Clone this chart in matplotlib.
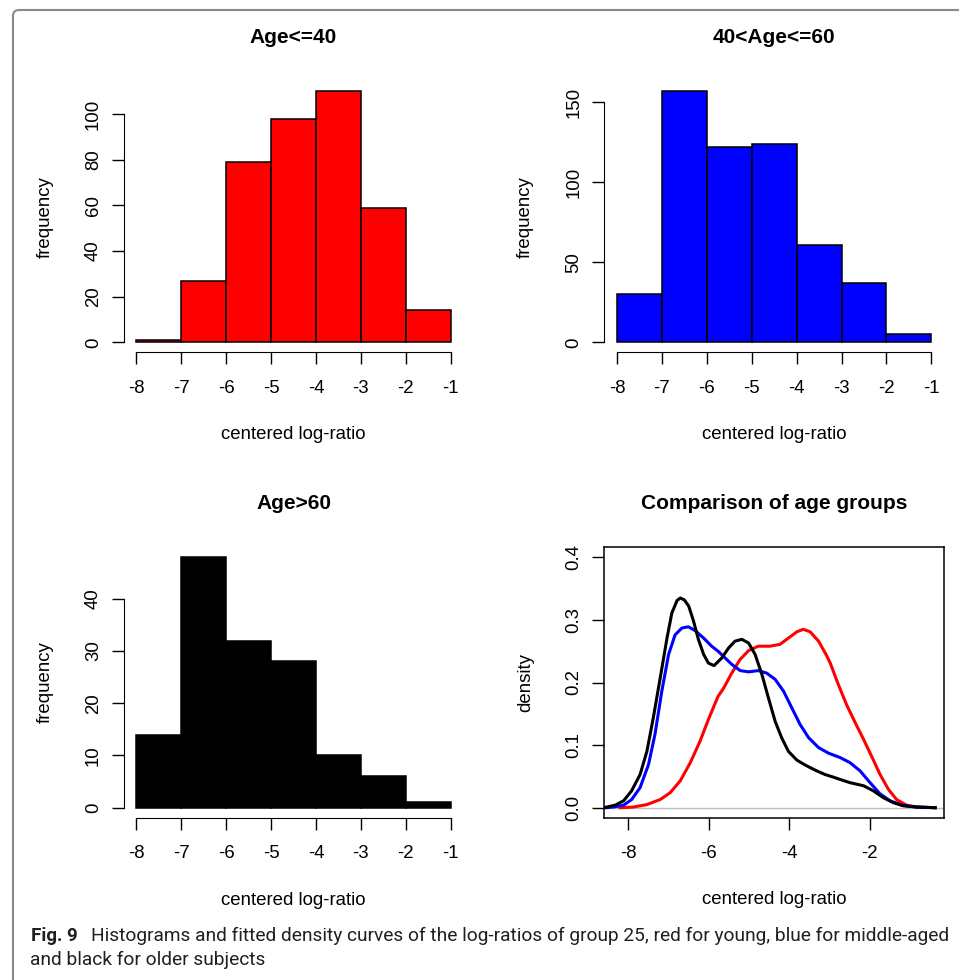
import matplotlib
matplotlib.use("Agg")
import matplotlib.pyplot as plt
from matplotlib.patches import FancyBboxPatch
from matplotlib.transforms import IdentityTransform

plt.rcParams['font.family'] = ['Liberation Sans', 'DejaVu Sans']
plt.rcParams['axes.unicode_minus'] = False

# histogram data (bins of width 1 from -8 to -1)
edges = [-8, -7, -6, -5, -4, -3, -2, -1]
young = [1, 27, 79, 98, 110, 59, 14]
middle = [30, 157, 122, 124, 61, 37, 5]
older = [14, 48, 32, 28, 10, 6, 1]

# density curves
young_x = [-8.21, -7.88, -7.54, -7.21, -6.96, -6.71, -6.46, -6.22, -6.01, -5.77,
           -5.64, -5.43, -5.22, -5.01, -4.77, -4.48, -4.23, -4.02, -3.81, -3.65,
           -3.48, -3.27, -3.07, -2.98, -2.78, -2.57, -2.36, -2.15, -1.95, -1.74,
           -1.53, -1.33, -1.08, -0.83, -0.37]
young_y = [0.0, 0.001, 0.005, 0.013, 0.024, 0.043, 0.072, 0.106, 0.141, 0.178,
           0.190, 0.215, 0.237, 0.251, 0.258, 0.258, 0.261, 0.271, 0.281, 0.285,
           0.281, 0.266, 0.243, 0.231, 0.197, 0.164, 0.136, 0.109, 0.082, 0.053,
           0.029, 0.013, 0.004, 0.001, 0.0]
middle_x = [-8.55, -8.37, -8.12, -7.92, -7.71, -7.50, -7.34, -7.17, -7.00, -6.84,
            -6.67, -6.51, -6.34, -6.13, -5.93, -5.77, -5.64, -5.43, -5.22, -5.01,
            -4.77, -4.56, -4.35, -4.14, -3.94, -3.73, -3.52, -3.27, -3.02, -2.73,
            -2.49, -2.24, -1.99, -1.74, -1.49, -1.20, -0.83, -0.37]
middle_y = [0.0, 0.001, 0.004, 0.013, 0.032, 0.069, 0.117, 0.186, 0.245, 0.276,
            0.287, 0.289, 0.283, 0.271, 0.258, 0.250, 0.242, 0.229, 0.219, 0.217,
            0.219, 0.215, 0.205, 0.186, 0.160, 0.133, 0.112, 0.096, 0.087, 0.080,
            0.072, 0.059, 0.040, 0.022, 0.011, 0.004, 0.001, 0.0]
older_x = [-8.62, -8.54, -8.33, -8.12, -7.92, -7.71, -7.54, -7.38, -7.21, -7.04,
           -6.92, -6.79, -6.71, -6.61, -6.50, -6.38, -6.26, -6.13, -6.01, -5.87,
           -5.68, -5.51, -5.35, -5.18, -5.01, -4.85, -4.68, -4.52, -4.35, -4.19,
           -4.02, -3.81, -3.60, -3.355, -3.11, -2.91, -2.73, -2.49, -2.15, -1.91,
           -1.66, -1.41, -1.16, -0.83, -0.37]
older_y = [0.0005, 0.001, 0.004, 0.011, 0.027, 0.053, 0.090, 0.144, 0.207, 0.271,
           0.311, 0.331, 0.335, 0.332, 0.322, 0.298, 0.269, 0.245, 0.231, 0.227,
           0.239, 0.255, 0.266, 0.269, 0.263, 0.245, 0.213, 0.176, 0.138, 0.112,
           0.090, 0.076, 0.068, 0.060, 0.053, 0.049, 0.045, 0.040, 0.035, 0.027,
           0.016, 0.008, 0.003, 0.001, 0.0]

W, H = 959, 980
fig = plt.figure(figsize=(W / 100, H / 100), dpi=100)


def axes_at(left, top, right, bottom):
    return fig.add_axes([left / W, 1 - bottom / H, (right - left) / W, (bottom - top) / H])


def style(ax, title):
    ax.set_title(title, fontsize=15, fontweight='bold', pad=27.3)
    ax.tick_params(length=8.6, width=1, labelsize=13.4, pad=11)
    ax.tick_params(axis='y', labelrotation=90, pad=7)
    for t in ax.get_yticklabels():
        t.set_va('center')
    ax.set_xlabel('centered log-ratio', fontsize=13.4)
    ax.xaxis.label.set_va('baseline')
    ax.xaxis.set_label_coords(0.5, -0.321)
    ax.yaxis.set_label_coords(-0.2317, 0.5)
    ax.yaxis.label.set_va('center')


panels = [
    (young, 'red', 'Age<=40', [0, 20, 40, 60, 80, 100], (123.7, 81.1, 463.3, 352.3)),
    (middle, 'blue', '40<Age<=60', [0, 50, 100, 150], (604.3, 81.1, 944.0, 352.3)),
    (older, 'black', 'Age>60', [0, 10, 20, 30, 40], (123.7, 546.9, 463.3, 817.7)),
]

for counts, col, title, yt, box in panels:
    ax = axes_at(*box)
    ax.bar(edges[:-1], counts, width=1, align='edge', color=col,
           edgecolor='black', linewidth=1.1)
    top = max(counts)
    ax.set_xlim(-8.28, -0.72)
    ax.set_ylim(-0.04 * top, 1.04 * top)
    ax.set_xticks(edges)
    ax.set_xticklabels([str(e) for e in edges])
    ax.set_yticks(yt)
    ax.spines['top'].set_visible(False)
    ax.spines['right'].set_visible(False)
    ax.spines['left'].set_bounds(yt[0], yt[-1])
    ax.spines['bottom'].set_bounds(edges[0], edges[-1])
    ax.set_ylabel('frequency', fontsize=13.4)
    style(ax, title)

# density comparison
ax = axes_at(604.3, 547.3, 944.0, 817.7)
ax.axhline(0, color='#bebebe', lw=1)
ax.plot(young_x, young_y, color='red', lw=2.2, solid_joinstyle='round')
ax.plot(middle_x, middle_y, color='blue', lw=2.2, solid_joinstyle='round')
ax.plot(older_x, older_y, color='black', lw=2.2, solid_joinstyle='round')
ax.set_xlim(-8.6, -0.15)
ax.set_ylim(-0.016, 0.416)
ax.set_xticks([-8, -6, -4, -2])
ax.set_yticks([0.0, 0.1, 0.2, 0.3, 0.4])
ax.set_yticklabels(['0.0', '0.1', '0.2', '0.3', '0.4'])
ax.set_ylabel('density', fontsize=13.4)
for s in ax.spines.values():
    s.set_linewidth(1.1)
style(ax, 'Comparison of age groups')

# frame around the figure and caption
frame = FancyBboxPatch((13, -60), 1100, H - 10 + 60, boxstyle='round,pad=0,rounding_size=6',
                       transform=IdentityTransform(), fill=False, edgecolor='#8a8a8a', lw=1.5)
fig.add_artist(frame)

cap_font = ['Roboto', 'DejaVu Sans']
fig.text(30.5 / W, 1 - 941 / H, 'Fig. 9', fontsize=13.5, fontweight='bold',
         family=cap_font, color='#231f20', va='baseline')
fig.text(90.7 / W, 1 - 941 / H,
         'Histograms and fitted density curves of the log-ratios of group 25, red for young, blue for middle-aged',
         fontsize=13.8, family=cap_font, color='#231f20', va='baseline')
fig.text(29.5 / W, 1 - 965 / H, 'and black for older subjects', fontsize=13.8,
         family=cap_font, color='#231f20', va='baseline')

fig.savefig('out.png', dpi=100)
